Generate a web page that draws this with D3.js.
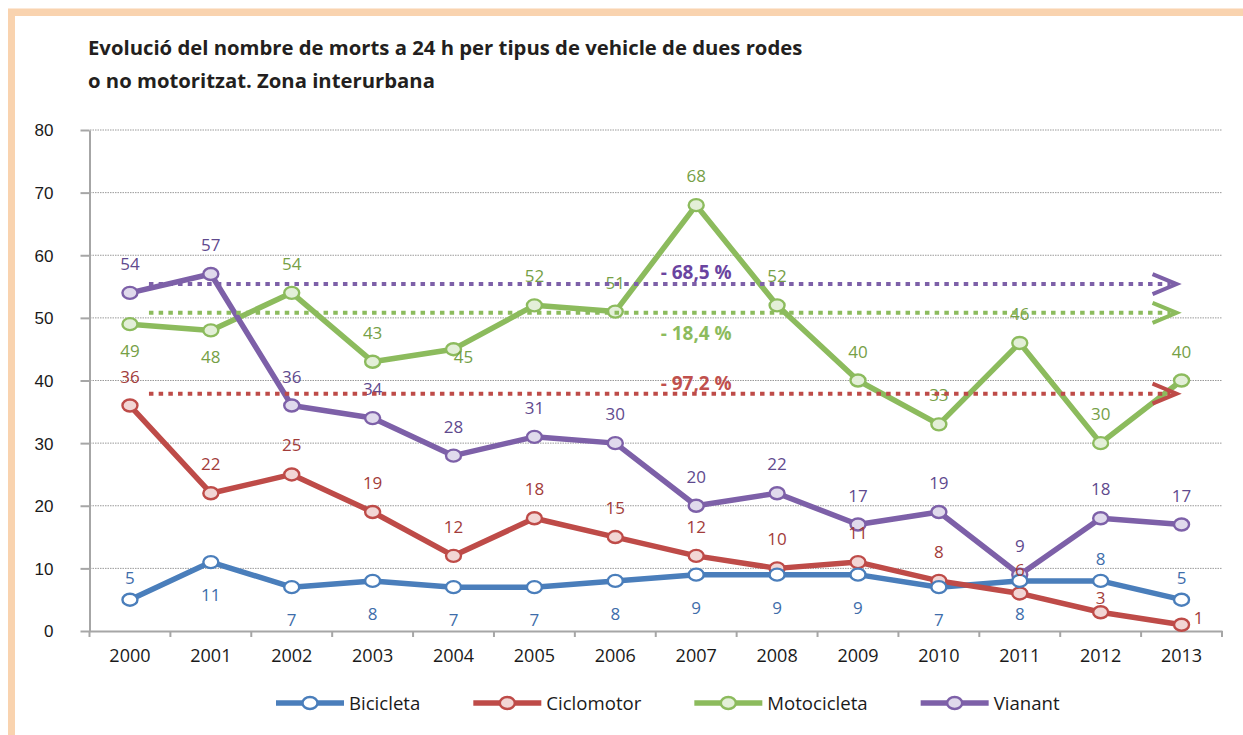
<!DOCTYPE html>
<html>
<head>
<meta charset="utf-8">
<script src="https://cdn.jsdelivr.net/npm/d3@7"></script>
<style>
    body { margin: 0; background: #fff; }
    svg { display: block; }
    text { font-family: "Open Sans", sans-serif; }
</style>
</head>
<body>
<div id="chart"></div>
<script>
// data
var years = ['2000', '2001', '2002', '2003', '2004', '2005', '2006', '2007', '2008', '2009', '2010', '2011', '2012', '2013'];
var bicicleta = [5, 11, 7, 8, 7, 7, 8, 9, 9, 9, 7, 8, 8, 5];
var ciclomotor = [36, 22, 25, 19, 12, 18, 15, 12, 10, 11, 8, 6, 3, 1];
var motocicleta = [49, 48, 54, 43, 45, 52, 51, 68, 52, 40, 33, 46, 30, 40];
var vianant = [54, 57, 36, 34, 28, 31, 30, 20, 22, 17, 19, 9, 18, 17];
var seriesNames = ['Bicicleta', 'Ciclomotor', 'Motocicleta', 'Vianant'];
var yTicks = [0, 10, 20, 30, 40, 50, 60, 70, 80];

// trend annotations (level on the y scale, label)
var trendNames = ['Vianant', 'Motocicleta', 'Ciclomotor'];
var trendLevels = [55.4, 50.8, 37.9];
var trendLabels = ['- 68,5 %', '- 18,4 %', '- 97,2 %'];

// where each value label sits: a = above, b = below, r = right
var labelSide = {
    Bicicleta:   ['a', 'b', 'b', 'b', 'b', 'b', 'b', 'b', 'b', 'b', 'b', 'b', 'a', 'a'],
    Ciclomotor:  ['a', 'a', 'a', 'a', 'a', 'a', 'a', 'a', 'a', 'a', 'a', 'a3', 'a2', 'r'],
    Motocicleta: ['b', 'b', 'a', 'a', 'br', 'a', 'a', 'a', 'a', 'a', 'a', 'a', 'a', 'a'],
    Vianant:     ['a', 'a', 'a', 'a', 'a', 'a', 'a', 'a', 'a', 'a', 'a', 'a', 'a', 'a']
};

var values = {Bicicleta: bicicleta, Ciclomotor: ciclomotor, Motocicleta: motocicleta, Vianant: vianant};
var colors = {Bicicleta: '#4A7EBB', Ciclomotor: '#BE4B48', Motocicleta: '#8CBB5D', Vianant: '#7D60A8'};
var markerFill = {Bicicleta: '#FFFFFF', Ciclomotor: '#F2D6D5', Motocicleta: '#E3EFD8', Vianant: '#E0DAEC'};
var labelColors = {Bicicleta: '#3E6DAA', Ciclomotor: '#A23C3A', Motocicleta: '#76A046', Vianant: '#5F4A8E'};
var trendTextColors = {Vianant: '#6A44A0', Motocicleta: '#8CBB5D', Ciclomotor: '#C0504D'};

var width = 1243, height = 735;

var svg = d3.select('#chart').append('svg')
    .attr('width', width)
    .attr('height', height);

// peach frame (top and left)
svg.append('rect').attr('x', 8).attr('y', 8).attr('width', width - 8).attr('height', 1.5).attr('fill', '#FCE8D6');
svg.append('rect').attr('x', 8).attr('y', 9).attr('width', width - 8).attr('height', 7).attr('fill', '#F9D3AF');
svg.append('rect').attr('x', 8).attr('y', 9).attr('width', 7).attr('height', height - 9).attr('fill', '#F9D3AF');

// title
var title = svg.append('text')
    .attr('x', 88)
    .attr('font-size', 20.3)
    .attr('font-weight', 'bold')
    .attr('fill', '#231F20');
title.append('tspan').attr('x', 88).attr('y', 55).text('Evolució del nombre de morts a 24 h per tipus de vehicle de dues rodes');
title.append('tspan').attr('x', 88).attr('y', 88).text('o no motoritzat. Zona interurbana');

var x = d3.scaleBand().domain(years).range([89.5, 1222]);
var y = d3.scaleLinear().domain([0, 80]).range([631, 130]);
function cx(i) { return x(years[i]) + x.bandwidth() / 2; }

// gridlines
svg.append('g').selectAll('line')
    .data(yTicks.filter(function (d) { return d > 0; }))
    .enter().append('line')
    .attr('x1', 90).attr('x2', 1222)
    .attr('y1', function (d) { return y(d); })
    .attr('y2', function (d) { return y(d); })
    .attr('stroke', '#9A9A9A')
    .attr('stroke-width', 1)
    .attr('stroke-dasharray', '1.5 1');

// y axis
var yAxis = svg.append('g')
    .attr('transform', 'translate(89.5,0)')
    .call(d3.axisLeft(y).tickValues(yTicks).tickSize(9).tickSizeOuter(0));
yAxis.select('.domain').attr('stroke', '#A6A6A6').attr('stroke-width', 2);
yAxis.selectAll('.tick line').attr('stroke', '#A6A6A6').attr('stroke-width', 2);
yAxis.selectAll('.tick text')
    .attr('x', -36)
    .attr('dy', '0.35em')
    .style('font-family', '"Liberation Sans", Arial, sans-serif')
    .style('font-size', '17px')
    .attr('fill', '#1A1A1A');

// x axis
var xAxis = svg.append('g')
    .attr('transform', 'translate(0,631)')
    .call(d3.axisBottom(x).tickSize(0).tickSizeOuter(0));
xAxis.select('.domain').attr('stroke', '#A6A6A6').attr('stroke-width', 2);
xAxis.selectAll('.tick text')
    .attr('y', 31)
    .attr('dy', 0)
    .style('font-size', '18px')
    .attr('fill', '#1A1A1A');
xAxis.selectAll('.bound')
    .data(years.map(function (d) { return x(d); }).concat([x.range()[1]]))
    .enter().append('line')
    .attr('class', 'bound')
    .attr('x1', function (d) { return d; })
    .attr('x2', function (d) { return d; })
    .attr('y1', 0).attr('y2', 6)
    .attr('stroke', '#A6A6A6')
    .attr('stroke-width', 2);

var line = d3.line()
    .x(function (d, i) { return cx(i); })
    .y(function (d) { return y(d); });

// lines first, then markers on top
var linesG = svg.append('g');
seriesNames.forEach(function (name) {
    linesG.append('path')
        .datum(values[name])
        .attr('d', line)
        .attr('fill', 'none')
        .attr('stroke', colors[name])
        .attr('stroke-width', 5.5)
        .attr('stroke-linejoin', 'round');
});

var markersG = svg.append('g');
seriesNames.slice().reverse().forEach(function (name) {
    markersG.selectAll('.m-' + name)
        .data(values[name])
        .enter().append('ellipse')
        .attr('cx', function (d, i) { return cx(i); })
        .attr('cy', function (d) { return y(d); })
        .attr('rx', 7.5)
        .attr('ry', 6)
        .attr('fill', markerFill[name])
        .attr('stroke', colors[name])
        .attr('stroke-width', 2.4);
});

// value labels
var labelsG = svg.append('g');
seriesNames.forEach(function (name) {
    var up = name == 'Bicicleta' ? -16 : -23;
    labelsG.selectAll('.l-' + name)
        .data(values[name])
        .enter().append('text')
        .attr('text-anchor', 'middle')
        .attr('font-size', 17)
        .attr('fill', labelColors[name])
        .attr('x', function (d, i) {
            var s = labelSide[name][i];
            if (s == 'r') return cx(i) + 17;
            if (s == 'br') return cx(i) + 10;
            return cx(i);
        })
        .attr('y', function (d, i) {
            var s = labelSide[name][i];
            if (s == 'b') return y(d) + (name == 'Bicicleta' ? 39 : 33);
            if (s == 'br') return y(d) + 14;
            if (s == 'r') return y(d) - 1;
            if (s == 'a2') return y(d) - 8;
            if (s == 'a3') return y(d) - 17;
            return y(d) + up;
        })
        .text(function (d) { return d; });
});

// trend arrows
var trendG = svg.append('g');
trendNames.forEach(function (name, k) {
    var ty = y(trendLevels[k]);
    var x0 = cx(0) + 19;
    var tip = cx(years.length - 1) - 5;
    trendG.append('line')
        .attr('x1', x0).attr('x2', tip - 6)
        .attr('y1', ty).attr('y2', ty)
        .attr('stroke', colors[name])
        .attr('stroke-width', 4)
        .attr('stroke-dasharray', '4.5 5.2');
    trendG.append('path')
        .attr('d', 'M' + (tip - 24) + ',' + (ty - 10) + 'L' + tip + ',' + ty + 'L' + (tip - 24) + ',' + (ty + 10))
        .attr('fill', 'none')
        .attr('stroke', colors[name])
        .attr('stroke-width', 4);
});
var trendDy = {Vianant: -5, Motocicleta: 27, Ciclomotor: -4};
trendNames.forEach(function (name, k) {
    trendG.append('text')
        .attr('x', cx(7))
        .attr('y', y(trendLevels[k]) + trendDy[name])
        .attr('text-anchor', 'middle')
        .attr('font-size', 19)
        .attr('font-weight', 'bold')
        .attr('fill', trendTextColors[name])
        .text(trendLabels[k]);
});

// legend
var legend = svg.append('g').attr('transform', 'translate(0,703)');
var lx = 276;
seriesNames.forEach(function (name) {
    var item = legend.append('g').attr('transform', 'translate(' + lx + ',0)');
    item.append('line')
        .attr('x1', 0).attr('x2', 68)
        .attr('stroke', colors[name])
        .attr('stroke-width', 5.5);
    item.append('ellipse')
        .attr('cx', 34).attr('rx', 7.5).attr('ry', 6)
        .attr('fill', markerFill[name])
        .attr('stroke', colors[name])
        .attr('stroke-width', 2.4);
    var t = item.append('text')
        .attr('x', 73)
        .attr('dy', '0.35em')
        .attr('font-size', 18.6)
        .attr('fill', '#1A1A1A')
        .text(name);
    lx += 73 + t.node().getComputedTextLength() + 53;
});
</script>
</body>
</html>
